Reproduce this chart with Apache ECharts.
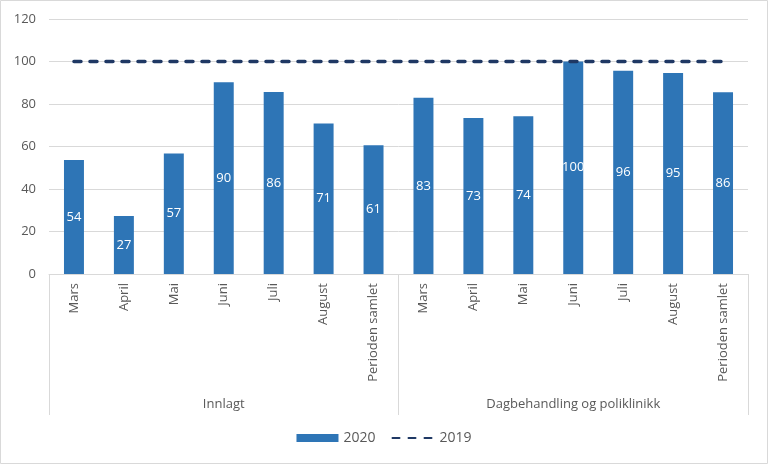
<!DOCTYPE html>
<html><head><meta charset="utf-8">
<script src="https://cdn.jsdelivr.net/npm/echarts@6/dist/echarts.min.js"></script>
<style>html,body{margin:0;padding:0;background:#fff}#c{width:768px;height:464px}</style>
</head><body><div id="c"></div>
<script>
const months = ['Mars','April','Mai','Juni','Juli','August','Perioden samlet','Mars','April','Mai','Juni','Juli','August','Perioden samlet'];
const groups = ['Innlagt','Dagbehandling og poliklinikk'];
const values2020 = [53.7,27.3,56.7,90.2,85.7,70.8,60.6,82.9,73.4,74.2,100,95.6,94.6,85.5];
const values2019 = [100,100,100,100,100,100,100,100,100,100,100,100,100,100];
const yTicks = {min:0,max:120,interval:20};
const FONT = 'Open Sans';
const chart = echarts.init(document.getElementById('c'));
chart.setOption({
  animation:false,
  textStyle:{fontFamily:FONT},
  graphic:[{type:'rect',shape:{x:0.5,y:0.5,width:767,height:463},style:{fill:'none',stroke:'#d9d9d9',lineWidth:1},silent:true}],
  grid:{left:49,right:20,top:19,bottom:190,containLabel:false},
  legend:{bottom:14,left:'center',itemGap:16,itemWidth:42,itemHeight:8,
    textStyle:{color:'#595959',fontSize:14,fontFamily:FONT},
    data:[{name:'2020',icon:'rect'},{name:'2019',itemStyle:{opacity:0}}]},
  xAxis:[{type:'category',data:months,position:'bottom',
      axisLine:{lineStyle:{color:'#d9d9d9'}},axisTick:{show:false},
      axisLabel:{rotate:90,color:'#595959',fontSize:13,margin:9,fontFamily:FONT}},
    {type:'category',data:groups,position:'bottom',
      axisLine:{show:false},
      axisTick:{show:true,length:141,inside:false,lineStyle:{color:'#d9d9d9'}},
      axisLabel:{color:'#595959',fontSize:13,margin:124,fontFamily:FONT},
      splitLine:{show:false}}],
  yAxis:{type:'value',min:yTicks.min,max:yTicks.max,interval:yTicks.interval,
    axisLine:{show:false},axisTick:{show:false},
    axisLabel:{color:'#595959',fontSize:13,margin:13,fontFamily:FONT},
    splitLine:{lineStyle:{color:'#d9d9d9'}}},
  series:[{name:'2020',type:'bar',data:values2020,barWidth:'40%',xAxisIndex:0,
      itemStyle:{color:'#2E75B6'},
      label:{show:true,position:'inside',color:'#fff',fontSize:13,fontFamily:FONT,
        formatter:p=>Math.round(p.value)}},
    {name:'2019',type:'line',data:values2019,xAxisIndex:0,symbol:'none',z:5,
      lineStyle:{color:'#1F3864',width:3.5,type:[7,9],cap:'round'},
      itemStyle:{color:'#1F3864'}}]
});
</script></body></html>
